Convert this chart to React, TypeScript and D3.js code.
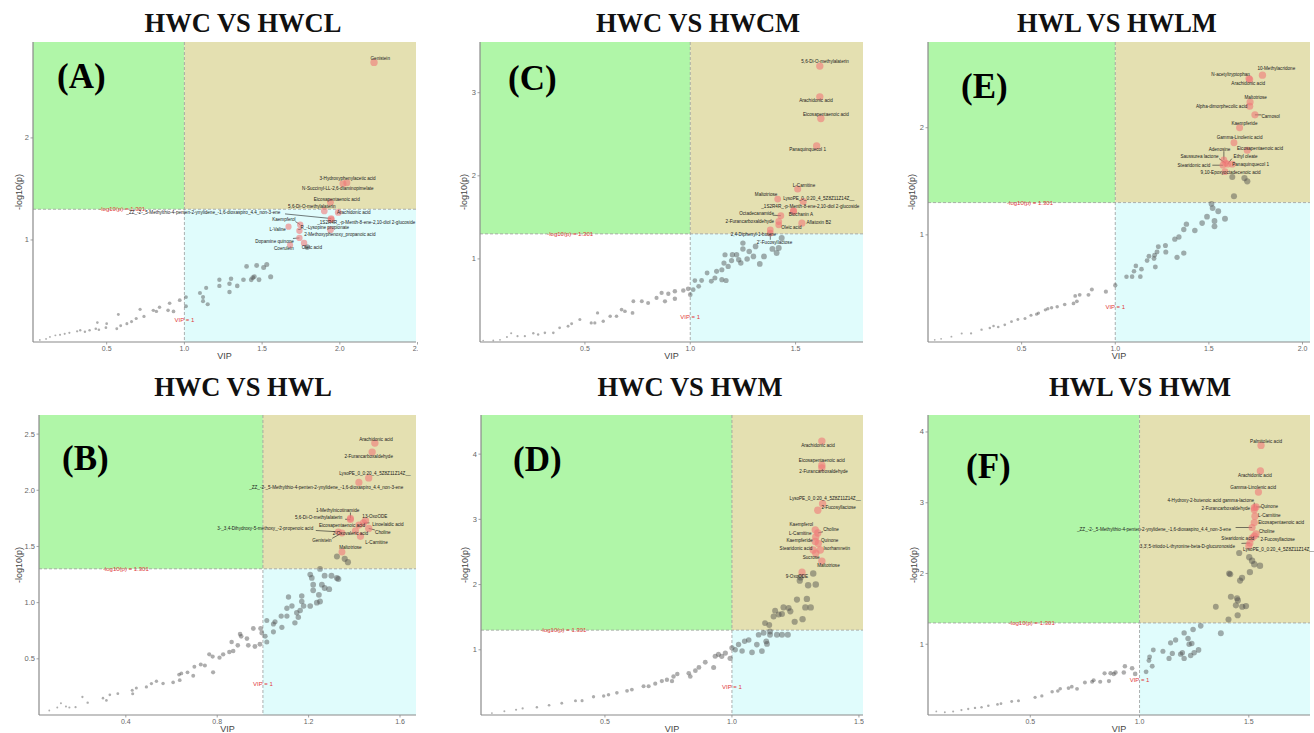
import * as d3 from 'd3';

// ---- data: [VIP, -log10(p)] ----
const aGray = [
  [1.40, 0.74], [1.465, 0.75], [1.51, 0.73], [1.53, 0.76], [1.555, 0.64], [1.48, 0.61], [1.45, 0.64],
  [1.43, 0.61], [1.44, 0.63], [1.38, 0.61], [1.34, 0.55], [1.30, 0.62], [1.29, 0.57], [1.29, 0.49],
  [1.225, 0.61], [1.225, 0.55], [1.14, 0.53], [1.10, 0.48], [1.12, 0.44], [1.12, 0.40], [1.15, 0.37],
  [1.01, 0.44], [1.01, 0.35], [0.97, 0.41], [0.905, 0.38], [0.895, 0.31], [0.93, 0.30], [0.84, 0.34],
  [0.80, 0.31], [0.82, 0.30], [0.715, 0.32], [0.74, 0.25], [0.69, 0.23], [0.66, 0.20], [0.63, 0.18],
  [0.575, 0.27], [0.565, 0.13], [0.59, 0.16], [0.50, 0.18], [0.495, 0.14], [0.45, 0.12], [0.44, 0.19],
  [0.43, 0.13], [0.39, 0.115], [0.36, 0.10], [0.33, 0.115], [0.31, 0.105], [0.26, 0.09], [0.23, 0.08],
  [0.20, 0.07], [0.17, 0.065], [0.135, 0.05], [0.11, 0.03], [0.07, 0.02], [1.79, 0.93],
];
// name, VIP, -log10(p), label VIP, label -log10(p)
const aHits = [
  ['Genistein', 2.22, 2.74, 2.26, 2.78],
  ['3-Hydroxyphenylacetic acid', 2.045, 1.56, 2.05, 1.60],
  ['N-Succinyl-LL-2,6-diaminopimelate', 2.02, 1.55, 1.987, 1.51],
  ['Eicosapentaenoic acid', 1.94, 1.37, 1.98, 1.40],
  ['5,6-Di-O-methylalaterin', 1.90, 1.285, 1.82, 1.33],
  ['Arachidonic acid', 1.99, 1.27, 2.09, 1.275],
  ['_ZZ_-2-_5-Methylthio-4-penten-2-ynylidene_-1,6-dioxaspiro_4.4_non-3-ene', 1.944, 1.21, 1.122, 1.275],
  ['_1S2R4R_-p-Menth-8-ene-2,10-diol 2-glucoside', 1.944, 1.20, 2.17, 1.17],
  ['Kaempferol', 1.745, 1.15, 1.64, 1.20],
  ['L-Valine', 1.67, 1.13, 1.60, 1.10],
  ['_R_-Lysopine propionate', 1.74, 1.09, 1.895, 1.125],
  ['2-Methoxyphenoxy_propanoic acid', 1.94, 1.10, 2.0, 1.05],
  ['Dopamine quinone', 1.74, 1.02, 1.58, 0.99],
  ['Coerulein', 1.68, 0.95, 1.64, 0.915],
  ['Oleic acid', 1.77, 0.97, 1.82, 0.93],
];

const bGray = [
  [1.324, 1.41], [1.358, 1.39], [1.372, 1.36], [1.25, 1.30], [1.207, 1.25], [1.214, 1.22], [1.30, 1.24],
  [1.324, 1.22], [1.33, 1.21], [1.22, 1.16], [1.258, 1.16], [1.22, 1.11], [1.27, 1.13], [1.245, 1.07],
  [1.236, 1.0], [1.25, 1.01], [1.17, 1.06], [1.112, 1.05], [1.17, 1.01], [1.127, 0.97], [1.105, 0.95],
  [1.163, 0.93], [1.178, 0.97], [1.207, 0.97], [1.148, 0.91], [1.155, 0.87], [1.14, 0.82], [1.105, 0.88],
  [1.08, 0.88], [1.053, 0.83], [1.046, 0.81], [1.083, 0.78], [1.046, 0.74], [1.017, 0.84], [1.017, 0.65],
  [1.01, 0.70], [0.99, 0.77], [0.995, 0.73], [0.987, 0.63], [0.965, 0.61], [0.958, 0.77], [0.93, 0.68],
  [0.936, 0.62], [0.90, 0.72], [0.905, 0.70], [0.89, 0.62], [0.863, 0.65], [0.87, 0.57], [0.853, 0.56],
  [0.826, 0.54], [0.81, 0.51], [0.78, 0.52], [0.765, 0.54], [0.782, 0.38], [0.746, 0.44], [0.728, 0.45],
  [0.70, 0.43], [0.695, 0.35], [0.67, 0.38], [0.643, 0.37], [0.633, 0.36], [0.636, 0.31], [0.607, 0.29],
  [0.563, 0.28], [0.534, 0.30], [0.512, 0.28], [0.49, 0.25], [0.446, 0.24], [0.428, 0.22], [0.43, 0.19],
  [0.365, 0.19], [0.33, 0.18], [0.315, 0.13], [0.30, 0.15], [0.233, 0.11], [0.21, 0.16], [0.18, 0.07],
  [0.153, 0.067], [0.138, 0.075], [0.116, 0.105], [0.10, 0.067], [0.065, 0.04], [1.27, 1.24], [1.29, 1.12],
];
const bHits = [
  ['Arachidonic acid', 1.49, 2.42, 1.495, 2.45],
  ['2-Furancarboxaldehyde', 1.478, 2.34, 1.463, 2.30],
  ['LysoPE_0_0:20_4_5Z8Z11Z14Z__', 1.463, 2.11, 1.49, 2.15],
  ['_ZZ_-2-_5-Methylthio-4-penten-2-ynylidene_-1,6-dioxaspiro_4.4_non-3-ene', 1.42, 2.07, 1.277, 2.03],
  ['1-Methylnicotinamide', 1.383, 1.75, 1.327, 1.82],
  ['5,6-Di-O-methylalaterin', 1.383, 1.74, 1.244, 1.76],
  ['13-OxoODE', 1.449, 1.73, 1.49, 1.77],
  ['Eicosapentaenoic acid', 1.42, 1.69, 1.346, 1.69],
  ['Linoelaidic acid', 1.44, 1.71, 1.547, 1.70],
  ['3-_3,4-Dihydroxy-5-methoxy_-2-propenoic acid', 1.33, 1.63, 1.01, 1.66],
  ['Choline', 1.463, 1.66, 1.525, 1.625],
  ['2-Oxovaleric acid', 1.405, 1.64, 1.383, 1.62],
  ['Genistein', 1.346, 1.62, 1.258, 1.55],
  ['L-Carnitine', 1.427, 1.59, 1.497, 1.54],
  ['Maltotriose', 1.346, 1.45, 1.383, 1.49],
];

const cGray = [
  [1.434, 1.25], [1.42, 1.13], [1.41, 1.07], [1.35, 1.03], [1.33, 0.94], [1.30, 1.03], [1.28, 1.09],
  [1.25, 1.19], [1.25, 1.12], [1.22, 1.05], [1.23, 0.99], [1.20, 1.05], [1.196, 0.98], [1.165, 1.05],
  [1.16, 0.95], [1.18, 0.91], [1.15, 0.87], [1.125, 0.85], [1.117, 0.77], [1.10, 0.73], [1.15, 0.75],
  [1.17, 0.74], [1.08, 0.83], [1.054, 0.74], [1.022, 0.74], [1.04, 0.67], [1.014, 0.63], [0.99, 0.64],
  [1.0, 0.57], [0.967, 0.62], [0.927, 0.61], [0.927, 0.52], [0.896, 0.58], [0.88, 0.49], [0.864, 0.59],
  [0.84, 0.53], [0.80, 0.47], [0.77, 0.49], [0.73, 0.49], [0.726, 0.35], [0.69, 0.37], [0.674, 0.39],
  [0.65, 0.31], [0.62, 0.31], [0.587, 0.25], [0.56, 0.35], [0.547, 0.23], [0.53, 0.23], [0.476, 0.27],
  [0.437, 0.22], [0.42, 0.19], [0.38, 0.17], [0.35, 0.11], [0.31, 0.11], [0.278, 0.09], [0.255, 0.105],
  [0.215, 0.07], [0.18, 0.07], [0.15, 0.105], [0.13, 0.06], [0.097, 0.026], [0.065, 0.018], [0.017, 0.018],
  [1.31, 1.15], [1.27, 1.00], [1.39, 1.12], [1.24, 0.95],
];
const cHits = [
  ['5,6-Di-O-methylalaterin', 1.615, 3.32, 1.64, 3.38],
  ['Arachidonic acid', 1.615, 2.95, 1.597, 2.91],
  ['Eicosapentaenoic acid', 1.62, 2.69, 1.644, 2.74],
  ['Panaquinquecol 1', 1.60, 2.36, 1.557, 2.32],
  ['L-Carnitine', 1.51, 1.84, 1.54, 1.89],
  ['Maltotriose', 1.415, 1.72, 1.36, 1.78],
  ['LysoPE_0_0:20_4_5Z8Z11Z14Z__', 1.536, 1.69, 1.61, 1.73],
  ['_1S2R4R_-p-Menth-8-ene-2,10-diol 2-glucoside', 1.49, 1.58, 1.57, 1.63],
  ['Octadecanamide', 1.43, 1.52, 1.315, 1.55],
  ['Biochanin A', 1.49, 1.57, 1.525, 1.53],
  ['2-Furancarboxaldehyde', 1.42, 1.45, 1.283, 1.45],
  ['Aflatoxin B2', 1.53, 1.43, 1.61, 1.44],
  ['Oleic acid', 1.42, 1.41, 1.48, 1.385],
  ['2,4-Diphenyl-1-butene', 1.38, 1.35, 1.30, 1.30],
  ['2\'-Fucosyllactose', 1.38, 1.31, 1.40, 1.20],
];

const dGray = [
  [1.27, 2.11], [1.267, 2.06], [1.32, 2.17], [1.30, 1.99], [1.33, 2.0], [1.256, 1.77], [1.295, 1.78],
  [1.289, 1.65], [1.31, 1.65], [1.223, 1.64], [1.203, 1.65], [1.197, 1.55], [1.17, 1.60], [1.164, 1.51],
  [1.147, 1.38], [1.13, 1.41], [1.247, 1.43], [1.278, 1.47], [1.23, 1.59], [1.184, 1.54], [1.15, 1.28],
  [1.177, 1.23], [1.197, 1.23], [1.22, 1.23], [1.15, 1.23], [1.125, 1.26], [1.105, 1.23], [1.135, 1.13],
  [1.138, 1.09], [1.118, 0.98], [1.079, 0.96], [1.098, 1.08], [1.066, 1.15], [1.05, 1.13], [1.04, 0.98],
  [1.026, 1.08], [1.013, 1.0], [1.0, 1.03], [0.993, 0.87], [0.974, 0.95], [0.96, 0.90], [0.947, 0.93],
  [0.934, 0.90], [0.928, 0.73], [0.895, 0.81], [0.87, 0.73], [0.856, 0.68], [0.836, 0.59], [0.83, 0.64],
  [0.785, 0.63], [0.77, 0.59], [0.764, 0.52], [0.744, 0.54], [0.724, 0.52], [0.698, 0.48], [0.672, 0.44],
  [0.652, 0.44], [0.606, 0.39], [0.587, 0.37], [0.547, 0.34], [0.514, 0.31], [0.495, 0.29], [0.455, 0.28],
  [0.41, 0.22], [0.384, 0.22], [0.33, 0.18], [0.28, 0.15], [0.232, 0.12], [0.176, 0.10], [0.15, 0.08],
  [0.104, 0.056], [0.055, 0.03],
];
const dHits = [
  ['Arachidonic acid', 1.354, 4.20, 1.339, 4.13],
  ['Eicosapentaenoic acid', 1.354, 3.83, 1.354, 3.90],
  ['2-Furancarboxaldehyde', 1.354, 3.79, 1.361, 3.73],
  ['LysoPE_0_0:20_4_5Z8Z11Z14Z__', 1.357, 3.24, 1.367, 3.32],
  ['2-Fucosyllactose', 1.338, 3.14, 1.42, 3.18],
  ['Kaempferol', 1.328, 2.84, 1.273, 2.93],
  ['Choline', 1.338, 2.79, 1.39, 2.84],
  ['L-Carnitine', 1.33, 2.73, 1.269, 2.79],
  ['Kaempferide', 1.328, 2.66, 1.266, 2.67],
  ['Quinone', 1.34, 2.63, 1.385, 2.67],
  ['Stearidonic acid', 1.32, 2.53, 1.252, 2.55],
  ['Isorhamnetin', 1.348, 2.53, 1.413, 2.55],
  ['Sucrose', 1.33, 2.48, 1.312, 2.42],
  ['Maltotriose', 1.354, 2.36, 1.38, 2.30],
  ['9-OxoODE', 1.276, 2.19, 1.256, 2.13],
];

const eGray = [
  [1.625, 1.54], [1.69, 1.53], [1.705, 1.50], [1.634, 1.36], [1.514, 1.29], [1.52, 1.25], [1.55, 1.22],
  [1.49, 1.17], [1.53, 1.13], [1.53, 1.08], [1.586, 1.15], [1.464, 1.11], [1.425, 1.04], [1.38, 1.10],
  [1.366, 1.05], [1.34, 0.98], [1.318, 0.96], [1.366, 0.83], [1.33, 0.79], [1.268, 0.90], [1.27, 0.84],
  [1.23, 0.89], [1.223, 0.84], [1.21, 0.81], [1.207, 0.78], [1.214, 0.70], [1.18, 0.80], [1.17, 0.76],
  [1.14, 0.68], [1.11, 0.71], [1.10, 0.66], [1.09, 0.61], [1.06, 0.61], [1.134, 0.61], [1.0, 0.53],
  [0.95, 0.47], [0.875, 0.49], [0.857, 0.44], [0.81, 0.44], [0.786, 0.43], [0.795, 0.38], [0.777, 0.36],
  [0.73, 0.35], [0.69, 0.33], [0.64, 0.31], [0.627, 0.30], [0.59, 0.27], [0.55, 0.25], [0.518, 0.22],
  [0.48, 0.21], [0.446, 0.19], [0.41, 0.16], [0.375, 0.14], [0.35, 0.15], [0.33, 0.13], [0.286, 0.115],
  [0.23, 0.08], [0.18, 0.08], [0.125, 0.05], [0.07, 0.03], [0.036, 0.02], [0.66, 0.32], [0.58, 0.26],
];
const eHits = [
  ['10-Methylacridone', 1.786, 2.49, 1.86, 2.55],
  ['N-acetyltryptophan', 1.714, 2.46, 1.616, 2.50],
  ['Arachidonic acid', 1.718, 2.45, 1.71, 2.41],
  ['Maltotriose', 1.72, 2.24, 1.75, 2.28],
  ['Alpha-dimorphecolic acid', 1.718, 2.20, 1.568, 2.20],
  ['Carnosol', 1.746, 2.12, 1.83, 2.11],
  ['Kaempferide', 1.664, 2.00, 1.69, 2.04],
  ['Gamma-Linolenic acid', 1.634, 1.86, 1.664, 1.91],
  ['Eicosapentaenoic acid', 1.705, 1.79, 1.773, 1.81],
  ['Adenosine', 1.58, 1.70, 1.557, 1.80],
  ['Saussurea lactone', 1.59, 1.67, 1.45, 1.73],
  ['Ethyl oleate', 1.60, 1.66, 1.696, 1.73],
  ['Stearidonic acid', 1.575, 1.65, 1.42, 1.65],
  ['Panaquinquecol 1', 1.625, 1.66, 1.723, 1.66],
  ['9,10-Epoxyoctadecenoic acid', 1.586, 1.59, 1.616, 1.58],
];

const fGray = [
  [1.456, 2.29], [1.502, 2.23], [1.515, 2.18], [1.525, 2.13], [1.551, 2.11], [1.505, 2.02], [1.41, 2.0],
  [1.415, 1.99], [1.469, 1.94], [1.46, 1.90], [1.418, 1.67], [1.446, 1.65], [1.45, 1.62], [1.441, 1.55],
  [1.47, 1.53], [1.487, 1.54], [1.349, 1.53], [1.449, 1.41], [1.407, 1.35], [1.28, 1.26], [1.245, 1.21],
  [1.204, 1.16], [1.222, 1.08], [1.239, 1.01], [1.227, 1.0], [1.165, 1.06], [1.142, 1.02], [1.372, 1.155],
  [1.27, 0.92], [1.25, 0.88], [1.234, 0.84], [1.196, 0.88], [1.188, 0.86], [1.204, 0.80], [1.15, 0.87],
  [1.135, 0.80], [1.107, 0.90], [1.063, 0.92], [1.046, 0.82], [1.043, 0.77], [1.058, 0.69], [1.03, 0.61],
  [0.98, 0.58], [0.966, 0.66], [0.933, 0.69], [0.928, 0.60], [0.89, 0.60], [0.882, 0.58], [0.867, 0.59],
  [0.84, 0.59], [0.86, 0.48], [0.82, 0.47], [0.79, 0.49], [0.783, 0.47], [0.75, 0.46], [0.714, 0.37],
  [0.69, 0.40], [0.675, 0.38], [0.637, 0.37], [0.626, 0.34], [0.60, 0.33], [0.553, 0.27], [0.522, 0.25],
  [0.446, 0.20], [0.415, 0.19], [0.366, 0.16], [0.35, 0.15], [0.308, 0.13], [0.277, 0.11], [0.247, 0.10],
  [0.216, 0.085], [0.185, 0.07], [0.147, 0.05], [0.109, 0.04], [0.07, 0.05],
];
const fHits = [
  ['Palmitoleic acid', 1.556, 3.81, 1.579, 3.87],
  ['Arachidonic acid', 1.553, 3.45, 1.528, 3.39],
  ['Gamma-Linolenic acid', 1.544, 3.15, 1.52, 3.22],
  ['4-Hydroxy-2-butenoic acid gamma-lactone', 1.525, 2.93, 1.326, 3.03],
  ['Quinone', 1.533, 2.94, 1.594, 2.95],
  ['2-Furancarboxaldehyde', 1.525, 2.90, 1.395, 2.92],
  ['L-Carnitine', 1.528, 2.81, 1.594, 2.82],
  ['Eicosapentaenoic acid', 1.525, 2.72, 1.648, 2.72],
  ['_ZZ_-2-_5-Methylthio-4-penten-2-ynylidene_-1,6-dioxaspiro_4.4_non-3-ene', 1.515, 2.65, 1.066, 2.62],
  ['Choline', 1.533, 2.56, 1.582, 2.60],
  ['Stearidonic acid', 1.515, 2.50, 1.449, 2.49],
  ['2-Fucosyllactose', 1.525, 2.53, 1.632, 2.48],
  ['3,3\',5-triiodo-L-thyronine-beta-D-glucuronoside', 1.505, 2.43, 1.219, 2.39],
  ['LysoPE_0_0:20_4_5Z8Z11Z14Z__', 1.50, 2.39, 1.637, 2.34],
];

const titles = ['HWC VS HWCL', 'HWC VS HWL', 'HWC VS HWCM', 'HWC VS HWM', 'HWL VS HWLM', 'HWL VS HWM'];
const tags = ['(A)', '(B)', '(C)', '(D)', '(E)', '(F)'];
const xTickSets = [[0.5, 1, 1.5, 2, 2.5], [0.4, 0.8, 1.2, 1.6], [0.5, 1, 1.5], [0.5, 1, 1.5], [0.5, 1, 1.5, 2], [0.5, 1, 1.5]];
const yTickSets = [[1, 2], [0.5, 1, 1.5, 2, 2.5], [1, 2, 3], [1, 2, 3, 4], [1, 2], [1, 2, 3, 4]];
const xDomains = [[0.026, 2.49], [0.02, 1.67], [0.002, 1.82], [0.012, 1.516], [0, 2.04], [0.032, 1.78]];
const yDomains = [[0, 2.94], [0, 2.67], [0, 3.61], [0, 4.6], [0, 2.8], [0, 4.24]];
const grays = [aGray, bGray, cGray, dGray, eGray, fGray];
const hits = [aHits, bHits, cHits, dHits, eHits, fHits];

// layout of each panel on the page
const layout = [
  { left: 33, right: 416, top: 42, bottom: 342, clipR: 418, titleX: 243, titleY: 32, tagX: 57, tagY: 88, yTitle: 11 },
  { left: 39, right: 416, top: 415, bottom: 715, clipR: 430, titleX: 243, titleY: 396, tagX: 62, tagY: 470, yTitle: 17 },
  { left: 480, right: 863, top: 42, bottom: 342, clipR: 870, titleX: 698, titleY: 32, tagX: 508, tagY: 90, yTitle: 13 },
  { left: 481, right: 863, top: 415, bottom: 715, clipR: 864, titleX: 690, titleY: 396, tagX: 513, tagY: 471, yTitle: 13 },
  { left: 928, right: 1310, top: 42, bottom: 342, clipR: 1314, titleX: 1117, titleY: 32, tagX: 961, tagY: 98, yTitle: 13 },
  { left: 928, right: 1310, top: 415, bottom: 715, clipR: 1314, titleX: 1140, titleY: 396, tagX: 966, tagY: 478, yTitle: 11 },
];
const threshLabelX = [0.6, 0.40, 0.43, 0.337, 0.545, 0.507];
const vipLabelY = [0.2, 0.256, 0.28, 0.40, 0.31, 0.46];

const GREEN = '#b0f6a8';
const KHAKI = '#e4e0b1';
const CYAN = '#e0fcfc';
const LABEL_FS = 4.6;

function Panel({ i }) {
  const L = layout[i];
  const x = d3.scaleLinear().domain(xDomains[i]).range([L.left, L.right]);
  const y = d3.scaleLinear().domain(yDomains[i]).range([L.bottom, L.top]);
  const r = d3.scaleLinear().domain([0, xDomains[i][1]]).range([0.8, 3.6]);
  const x1 = x(1);
  const yT = y(1.301);
  const fmtY = i === 1 ? d3.format('.1f') : d3.format('d');
  const fmtX = d3.format('.1f');
  const clipId = `clip-${i}`;

  return (
    <g>
      <defs>
        <clipPath id={clipId}>
          <rect x={L.left - 40} y={L.top - 5} width={L.clipR - L.left + 40} height={L.bottom - L.top + 40} />
        </clipPath>
      </defs>
      <text x={L.titleX} y={L.titleY} textAnchor="middle" fontFamily="'Liberation Serif', 'Times New Roman', serif"
        fontWeight="bold" fontSize={26.5} fill="#111">{titles[i]}</text>
      <g clipPath={`url(#${clipId})`}>
        {/* quadrant backgrounds */}
        <rect x={L.left} y={L.top} width={x1 - L.left} height={yT - L.top} fill={GREEN} />
        <rect x={x1} y={L.top} width={L.right - x1} height={yT - L.top} fill={KHAKI} />
        <rect x={x1} y={yT} width={L.right - x1} height={L.bottom - yT} fill={CYAN} />
        <line x1={L.left} x2={L.right} y1={yT} y2={yT} stroke="#9a9a9a" strokeWidth={0.8} strokeDasharray="3,2" />
        <line x1={x1} x2={x1} y1={L.top} y2={L.bottom} stroke="#9a9a9a" strokeWidth={0.8} strokeDasharray="3,2" />
        <text x={x(threshLabelX[i])} y={yT + 2} textAnchor="middle" fontFamily="'Liberation Sans', Arial, sans-serif"
          fontSize={6} fill="#e03a3a">-log10(p) = 1.301</text>
        <text x={x1} y={y(vipLabelY[i])} textAnchor="middle" fontFamily="'Liberation Sans', Arial, sans-serif"
          fontSize={6} fill="#e03a3a">VIP = 1</text>

        {grays[i].map((d, k) => (
          <circle key={k} cx={x(d[0])} cy={y(d[1])} r={r(d[0])} fill="#4a4a4a" fillOpacity={0.45} />
        ))}
        {hits[i].map((d, k) => {
          const px = x(d[1]), py = y(d[2]);
          const lx = x(d[3]), ly = y(d[4]);
          const hw = String(d[0]).length * LABEL_FS * 0.25;
          const ex = Math.max(lx - hw, Math.min(px, lx + hw));
          const ey = Math.max(ly - 2.5, Math.min(py, ly + 2));
          const far = Math.hypot(ex - px, ey - py) > 5;
          return (
            <g key={k}>
              {far && <line x1={px} y1={py} x2={ex} y2={ey} stroke="#222" strokeWidth={0.6} />}
            </g>
          );
        })}
        {hits[i].map((d, k) => (
          <circle key={k} cx={x(d[1])} cy={y(d[2])} r={r(d[1]) + 0.4} fill="#f07878" fillOpacity={0.6} />
        ))}
        {hits[i].map((d, k) => (
          <text key={k} x={x(d[3])} y={y(d[4]) + LABEL_FS * 0.35} textAnchor="middle"
            fontFamily="'Liberation Sans', Arial, sans-serif" fontSize={LABEL_FS} fill="#1a1a1a">{d[0]}</text>
        ))}

        {/* axes */}
        <line x1={L.left} x2={L.left} y1={L.top} y2={L.bottom} stroke="#8a8a8a" strokeWidth={1.2} />
        <line x1={L.left} x2={L.right} y1={L.bottom} y2={L.bottom} stroke="#8a8a8a" strokeWidth={1.2} />
        {xTickSets[i].map(t => (
          <g key={t}>
            <line x1={x(t)} x2={x(t)} y1={L.bottom} y2={L.bottom + 2.5} stroke="#8a8a8a" strokeWidth={0.8} />
            <text x={x(t)} y={L.bottom + 8.5} textAnchor="middle" fontFamily="'Liberation Sans', Arial, sans-serif"
              fontSize={7} fill="#666">{fmtX(t)}</text>
          </g>
        ))}
      </g>
      {yTickSets[i].map(t => (
        <g key={t}>
          <line x1={L.left - 2.5} x2={L.left} y1={y(t)} y2={y(t)} stroke="#8a8a8a" strokeWidth={0.8} />
          <text x={L.left - 4} y={y(t) + 2.5} textAnchor="end" fontFamily="'Liberation Sans', Arial, sans-serif"
            fontSize={7.5} fill="#666">{fmtY(t)}</text>
        </g>
      ))}
      <text x={(L.left + L.right) / 2} y={L.bottom + 17} textAnchor="middle"
        fontFamily="'Liberation Sans', Arial, sans-serif" fontSize={9} fill="#444">VIP</text>
      <text transform={`translate(${L.left - L.yTitle},${(L.top + L.bottom) / 2}) rotate(-90)`} textAnchor="middle"
        fontFamily="'Liberation Sans', Arial, sans-serif" fontSize={9} fill="#444">-log10(p)</text>
      <text x={L.tagX} y={L.tagY} fontFamily="'Liberation Serif', 'Times New Roman', serif" fontWeight="bold"
        fontSize={35} fill="#000">{tags[i]}</text>
    </g>
  );
}

export default function App() {
  return (
    <div style={{ position: 'absolute', left: 0, top: 0, width: 1314, height: 733, background: '#fff' }}>
      <svg width={1314} height={733} style={{ display: 'block' }}>
        <rect width={1314} height={733} fill="#fff" />
        {titles.map((_, i) => <Panel key={i} i={i} />)}
      </svg>
    </div>
  );
}
